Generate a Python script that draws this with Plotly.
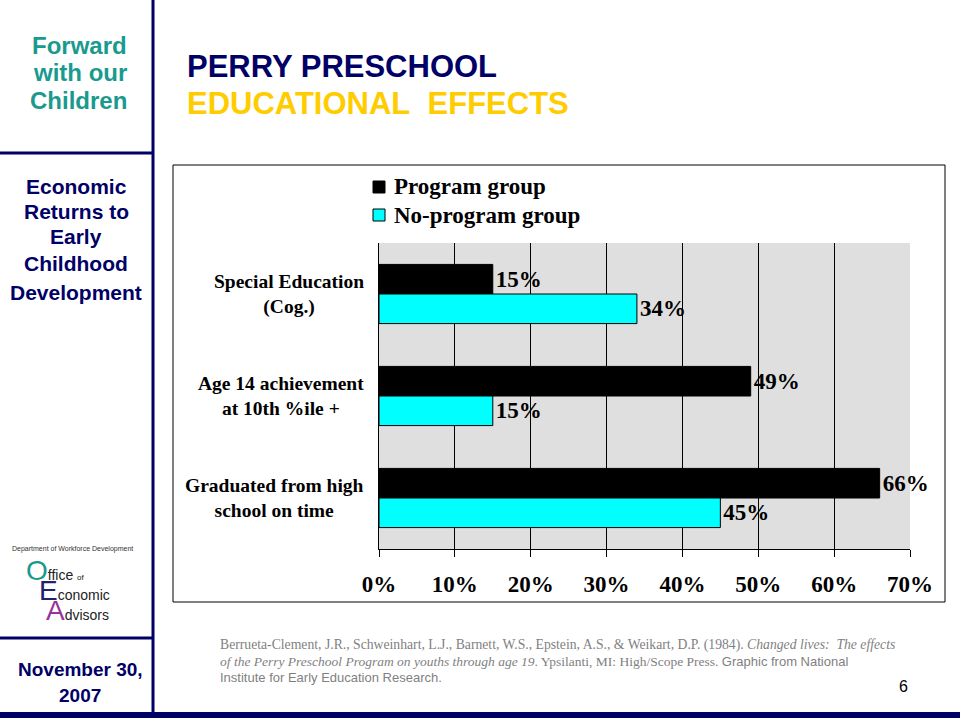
import plotly.graph_objects as go

categories = ["Special Education<br>(Cog.)", "Age 14 achievement<br>at 10th %ile +", "Graduated from high<br>school on time"]
series_names = ["Program group", "No-program group"]
program_values = [15, 49, 66]
no_program_values = [34, 15, 45]
x_tick_values = [0, 10, 20, 30, 40, 50, 60, 70]
x_tick_labels = ["0%", "10%", "20%", "30%", "40%", "50%", "60%", "70%"]

W, H = 960, 720
def px(x):
    return x / W
def py(y):
    return 1 - y / H

NAVY = "#000066"
TEAL = "#1A9A8E"
GOLD = "#FFCC00"
SERIF = "Liberation Serif"
SANS = "Liberation Sans"
series_colors = ["#000000", "#00FFFF"]

fig = go.Figure()
cat_ids = [0, 1, 2]
for name, vals, color in [(series_names[0], program_values, series_colors[0]),
                          (series_names[1], no_program_values, series_colors[1])]:
    fig.add_trace(go.Bar(
        y=cat_ids, x=vals, name=name, orientation="h",
        marker=dict(color=color, line=dict(color="#000000", width=1)),
        text=[f"{v}%" for v in vals], textposition="outside",
        textfont=dict(family=SERIF, size=23, color="#000000", weight="bold"),
        constraintext="none", cliponaxis=False, hoverinfo="skip", showlegend=False,
    ))

annotations = []
for i, c in enumerate(categories):
    annotations.append(dict(
        xref="paper", yref="y", x=px(366), y=cat_ids[i], text=c,
        xanchor="right", yanchor="middle", align="center", showarrow=False,
        font=dict(family=SERIF, size=19.5, color="#000000", weight="bold"),
    ))

def ann(x, y, text, size, color, family=SANS, xanchor="left", weight="bold", align="left", yanchor="middle"):
    annotations.append(dict(
        xref="paper", yref="paper", x=px(x), y=py(y), text=text,
        xanchor=xanchor, yanchor=yanchor, align=align, showarrow=False,
        font=dict(family=family, size=size, color=color, weight=weight),
    ))

# Manual legend
shapes = []
for i, (name, color) in enumerate(zip(series_names, series_colors)):
    yc = 187 + 28 * i
    shapes.append(dict(type="rect", xref="paper", yref="paper", x0=px(373), x1=px(385),
                       y0=py(yc - 6), y1=py(yc + 6), fillcolor=color, line=dict(color="#000000", width=1)))
    ann(392, yc, name, 23, "#000000", family=SERIF)

# Sidebar texts
ann(129, 45, "Forward", 24, TEAL, xanchor="right")
ann(129, 73, "with our", 24, TEAL, xanchor="right")
ann(129, 101, "Children", 24, TEAL, xanchor="right")
for t, yy in [("Economic", 187), ("Returns to", 211), ("Early", 237), ("Childhood", 263), ("Development", 292)]:
    ann(76, yy, t, 21, NAVY, xanchor="center")
ann(80, 669, "November 30,", 19, NAVY, xanchor="center")
ann(80, 695, "2007", 19, NAVY, xanchor="center")

# Logo
ann(72, 549, "Department of Workforce Development", 7, "#333333", xanchor="center", weight="normal")
ann(24, 570, "<span style='font-size:28px;color:#1A9A8E'>O</span>ffice <span style='font-size:8px'>of</span>",
    14, "#222222", weight="normal")
ann(37, 590, "<span style='font-size:28px;color:#22226A'>E</span>conomic", 14, "#222222", weight="normal")
ann(44, 610, "<span style='font-size:28px;color:#993399'>A</span>dvisors", 14, "#222222", weight="normal")

# Title
ann(185, 66, "PERRY PRESCHOOL", 31, NAVY)
ann(185, 104, "EDUCATIONAL&nbsp; EFFECTS", 31, GOLD)

# Citation
GRAY = "#7F7F7F"
cite1 = ("Berrueta-Clement, J.R., Schweinhart, L.J., Barnett, W.S., Epstein, A.S., &amp; Weikart, D.P. (1984). "
         "<i>Changed lives:  The effects</i>")
cite2 = ("<i>of the Perry Preschool Program on youths through age 19</i>. Ypsilanti, MI: High/Scope Press. "
         "<span style='font-family:Liberation Sans;font-size:13px'>Graphic from National</span>")
cite3 = "Institute for Early Education Research."
ann(218, 645, cite1, 13.7, GRAY, family=SERIF, weight="normal")
ann(218, 661, cite2, 13.5, GRAY, family=SERIF, weight="normal")
ann(218, 677, cite3, 13, GRAY, family=SANS, weight="normal")
ann(903, 686, "6", 16, "#000000", xanchor="center", weight="normal")

shapes += [
    dict(type="line", xref="paper", yref="paper", x0=px(153), x1=px(153), y0=py(0), y1=py(716),
         line=dict(color=NAVY, width=3)),
    dict(type="line", xref="paper", yref="paper", x0=px(0), x1=px(153), y0=py(153), y1=py(153),
         line=dict(color=NAVY, width=3)),
    dict(type="line", xref="paper", yref="paper", x0=px(0), x1=px(153), y0=py(638), y1=py(638),
         line=dict(color=NAVY, width=3)),
    dict(type="rect", xref="paper", yref="paper", x0=px(0), x1=px(960), y0=py(712), y1=py(718),
         line=dict(width=0), fillcolor=NAVY),
    dict(type="rect", xref="paper", yref="paper", x0=px(173), x1=px(945), y0=py(165), y1=py(602),
         line=dict(color="#000000", width=1), fillcolor="rgba(0,0,0,0)"),
]

fig.update_layout(
    width=W, height=H, autosize=False,
    margin=dict(l=0, r=0, t=0, b=0, pad=0, autoexpand=False),
    paper_bgcolor="#FFFFFF", plot_bgcolor="#DFDFDF",
    barmode="group", bargap=0.42, bargroupgap=0,
    showlegend=False,
    xaxis=dict(domain=[px(379), px(910)], range=[0, 70], tickvals=x_tick_values, ticktext=x_tick_labels,
               showgrid=True, gridcolor="#000000", gridwidth=1, zeroline=False, automargin=False,
               showline=True, linecolor="#000000", linewidth=1,
               ticks="outside", ticklen=7, tickcolor="#000000", ticklabelstandoff=7,
               tickfont=dict(family=SERIF, size=23, color="#000000", weight="bold"),
               fixedrange=True),
    yaxis=dict(domain=[py(549), py(243)], range=[2.5, -0.5], showticklabels=False, ticks="",
               showgrid=False, zeroline=False, showline=True, linecolor="#000000", linewidth=1,
               automargin=False, fixedrange=True),
    annotations=annotations, shapes=shapes,
)

fig.write_html("out.html", config={"displayModeBar": False},
               post_script="document.body.style.margin='0px';document.body.style.overflow='hidden';")
